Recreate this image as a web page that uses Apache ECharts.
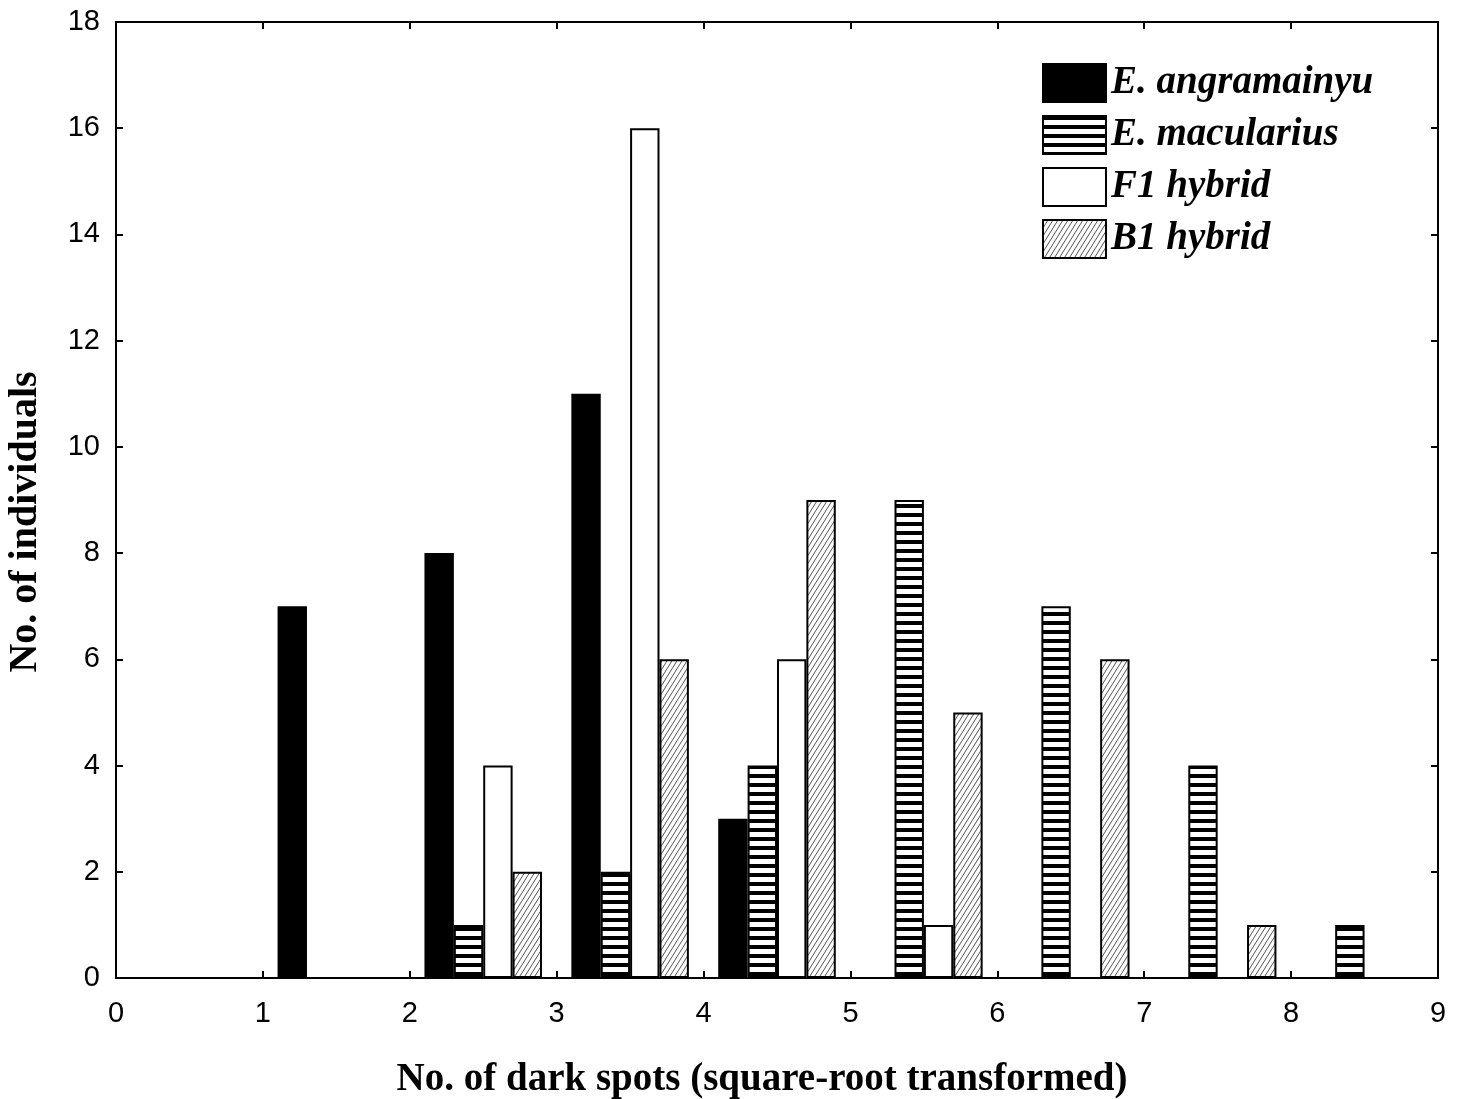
<!DOCTYPE html>
<html>
<head>
<meta charset="utf-8">
<script src="https://cdn.jsdelivr.net/npm/echarts@6/dist/echarts.min.js"></script>
<style>
  html, body { margin: 0; padding: 0; background: #fff; }
  #chart { width: 1461px; height: 1099px; }
</style>
</head>
<body>
<div id="chart"></div>
<script>
// bins start at 1..8, four groups side by side inside each bin
const binStarts = [1, 2, 3, 4, 5, 6, 7, 8]
const seriesNames = ['E. angramainyu', 'E. macularius', 'F1 hybrid', 'B1 hybrid']
const angramainyu = [7, 8, 11, 3, 0, 0, 0, 0]
const macularius = [0, 1, 2, 4, 9, 7, 4, 1]
const f1Hybrid = [0, 4, 16, 6, 1, 0, 0, 0]
const b1Hybrid = [0, 2, 6, 9, 5, 6, 1, 0]

const makeStripes = () => {
  const c = document.createElement('canvas')
  c.width = 10; c.height = 9
  const ctx = c.getContext('2d')
  ctx.fillStyle = '#fff'; ctx.fillRect(0, 0, 10, 9)
  ctx.fillStyle = '#000'; ctx.fillRect(0, 0, 10, 4)
  return c
}

const makeHatch = () => {
  const c = document.createElement('canvas')
  c.width = 5; c.height = 8
  const ctx = c.getContext('2d')
  ctx.fillStyle = '#fff'; ctx.fillRect(0, 0, 5, 8)
  ctx.strokeStyle = '#555'; ctx.lineWidth = 1
  ctx.beginPath()
  for (const dx of [-5, 0, 5]) {
    ctx.moveTo(dx, 8); ctx.lineTo(dx + 5, 0)
  }
  ctx.stroke()
  return c
}

const fills = [
  '#000',
  { image: makeStripes(), repeat: 'repeat' },
  '#fff',
  { image: makeHatch(), repeat: 'repeat' },
]

const counts = [angramainyu, macularius, f1Hybrid, b1Hybrid]

const chart = echarts.init(document.getElementById('chart'))

const serifBold = { fontFamily: '"Liberation Serif", "Times New Roman", serif', fontWeight: 'bold', color: '#000' }
const sansLabel = { color: '#000', fontSize: 29, fontFamily: '"Liberation Sans", Arial, sans-serif' }
const frameLine = { show: true, onZero: false, lineStyle: { color: '#000', width: 2 } }
const innerTick = { show: true, inside: true, length: 7, lineStyle: { color: '#000', width: 2 } }

chart.setOption({
  backgroundColor: '#fff',
  animation: false,
  grid: { left: 116, top: 22, width: 1322, height: 956, show: false, outerBoundsMode: 'none', containLabel: false },
  legend: {
    orient: 'vertical',
    left: 1042,
    top: 63,
    padding: 0,
    itemWidth: 63,
    itemHeight: 38,
    itemGap: 12,
    textStyle: { ...serifBold, fontStyle: 'italic', fontSize: 39 },
    data: seriesNames.map(n => ({ name: n, icon: 'rect' })),
  },
  xAxis: [
    {
      type: 'value', min: 0, max: 9, interval: 1,
      name: 'No. of dark spots (square-root transformed)',
      nameLocation: 'middle', nameGap: 82,
      nameTextStyle: { ...serifBold, fontSize: 39, padding: [0, 30, 0, 0] },
      axisLine: frameLine,
      axisTick: innerTick,
      axisLabel: { ...sansLabel, margin: 21 },
      splitLine: { show: false },
    },
    {
      type: 'value', min: 0, max: 9, interval: 1, position: 'top',
      axisLine: frameLine,
      axisTick: innerTick,
      axisLabel: { show: false },
      splitLine: { show: false },
    },
  ],
  yAxis: [
    {
      type: 'value', min: 0, max: 18, interval: 2,
      name: 'No. of individuals',
      nameLocation: 'middle', nameGap: 70,
      nameTextStyle: { ...serifBold, fontSize: 40, padding: [0, 44, 0, 0] },
      axisLine: frameLine,
      axisTick: innerTick,
      axisLabel: { ...sansLabel, margin: 16 },
      splitLine: { show: false },
    },
    {
      type: 'value', min: 0, max: 18, interval: 2, position: 'right',
      axisLine: frameLine,
      axisTick: innerTick,
      axisLabel: { show: false },
      splitLine: { show: false },
    },
  ],
  series: seriesNames.map((name, i) => ({
    name,
    type: 'bar',
    barWidth: 29.4,
    barGap: '-100%',
    itemStyle: { color: fills[i], borderColor: '#000', borderWidth: 2 },
    data: binStarts
      .map((b, k) => [b + 0.2 + 0.2 * i, counts[i][k]])
      .filter(d => d[1] > 0),
  })),
})
</script>
</body>
</html>
